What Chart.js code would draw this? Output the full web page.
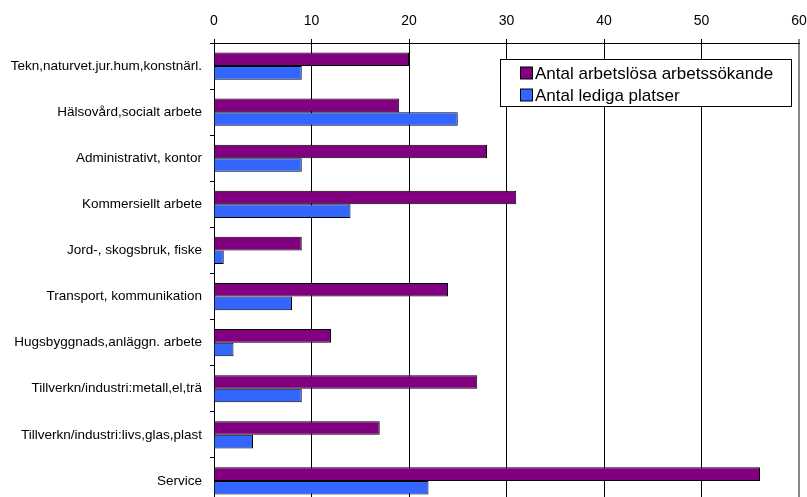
<!DOCTYPE html>
<html>
<head>
<meta charset="utf-8">
<script src="https://cdn.jsdelivr.net/npm/chart.js@4/dist/chart.umd.min.js"></script>
<style>
  html, body { margin: 0; padding: 0; background: #fff; overflow: hidden; }
  canvas { display: block; }
</style>
</head>
<body>
<canvas id="barChart" width="807" height="505"></canvas>
<script>
// Yrkesområden och antal per område
const categories = [
  'Tekn,naturvet.jur.hum,konstnärl.',
  'Hälsovård,socialt arbete',
  'Administrativt, kontor',
  'Kommersiellt arbete',
  'Jord-, skogsbruk, fiske',
  'Transport, kommunikation',
  'Hugsbyggnads,anläggn. arbete',
  'Tillverkn/industri:metall,el,trä',
  'Tillverkn/industri:livs,glas,plast',
  'Service'
];
const arbetslosa = [20, 19, 28, 31, 9, 24, 12, 27, 17, 56];
const ledigaPlatser = [9, 25, 9, 14, 1, 8, 2, 9, 4, 22];
const xTicks = [0, 10, 20, 30, 40, 50, 60];

const FONT = 'Arial, "Liberation Sans", sans-serif';

// Legend box drawn inside the plot area, top right
const boxLegend = {
  id: 'boxLegend',
  afterDraw(chart) {
    const ctx = chart.ctx;
    const x = 500.5, y = 59.5, w = 291, h = 47;
    ctx.save();
    ctx.fillStyle = '#fff';
    ctx.fillRect(x, y, w, h);
    ctx.strokeStyle = '#000';
    ctx.lineWidth = 1;
    ctx.strokeRect(x, y, w, h);
    ctx.font = '17px ' + FONT;
    ctx.textBaseline = 'middle';
    chart.data.datasets.forEach((ds, i) => {
      const cy = 73 + i * 22;
      ctx.fillStyle = ds.backgroundColor;
      ctx.fillRect(520.5, cy - 6, 12, 12);
      ctx.strokeRect(520.5, cy - 6, 12, 12);
      ctx.fillStyle = '#000';
      ctx.fillText(ds.label, 535, cy + 1);
    });
    ctx.restore();
  }
};

// no extra room for edge tick labels, the plot fills the canvas
const noEdgePadding = s => {
  s.paddingLeft = 0;
  s.paddingRight = 0;
  s.paddingTop = 0;
  s.paddingBottom = 0;
};

new Chart(document.getElementById('barChart'), {
  type: 'bar',
  data: {
    labels: categories,
    datasets: [{
      label: 'Antal arbetslösa arbetssökande',
      data: arbetslosa,
      backgroundColor: '#800080',
      borderColor: '#000',
      borderWidth: 1,
      categoryPercentage: 0.59,
      barPercentage: 1.0
    }, {
      label: 'Antal lediga platser',
      data: ledigaPlatser,
      backgroundColor: '#3366FF',
      borderColor: '#000',
      borderWidth: 1,
      categoryPercentage: 0.59,
      barPercentage: 1.0
    }]
  },
  options: {
    indexAxis: 'y',
    responsive: false,
    animation: false,
    layout: { padding: { top: 0, left: 0, right: 8, bottom: 1 } },
    plugins: {
      legend: { display: false },
      tooltip: { enabled: false }
    },
    scales: {
      x: {
        position: 'top',
        min: 0,
        max: 60,
        afterBuildTicks: s => { s.ticks = xTicks.map(v => ({ value: v })); },
        afterFit: s => { s.height = 43; noEdgePadding(s); },
        border: { color: '#000', width: 1 },
        grid: {
          color: ctx => ctx.index === 6 ? '#888' : '#000',
          lineWidth: ctx => ctx.index === 6 ? 2 : 1,
          tickLength: 4
        },
        ticks: {
          color: '#000',
          font: { family: FONT, size: 14 },
          padding: 9
        }
      },
      y: {
        afterFit: s => { s.width = 214; noEdgePadding(s); },
        border: { color: '#000', width: 1 },
        grid: {
          drawOnChartArea: false,
          color: '#000',
          tickLength: 4
        },
        ticks: {
          color: '#000',
          font: { family: FONT, size: 13.5 },
          padding: 8
        }
      }
    }
  },
  plugins: [boxLegend]
});
</script>
</body>
</html>
